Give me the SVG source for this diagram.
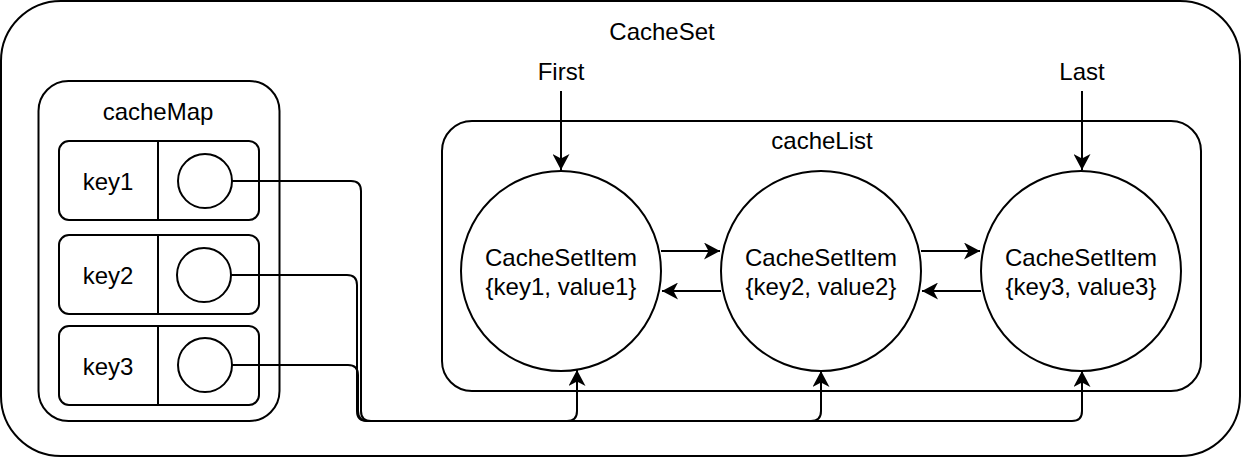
<svg xmlns="http://www.w3.org/2000/svg" width="1242" height="458" viewBox="0 0 1242 458">
<style>
.s{fill:#fff;stroke:#000;stroke-width:2}
.n{fill:none;stroke:#000;stroke-width:2}
.e{fill:none;stroke:#000;stroke-width:2}
text{font-family:"Liberation Sans",Arial,Helvetica,sans-serif;font-size:24px;fill:#000;text-anchor:middle}
</style>
<defs>
<marker id="ah" markerUnits="userSpaceOnUse" markerWidth="17" markerHeight="17" viewBox="0 0 17 17" refX="16" refY="8.5" orient="auto">
<path d="M0,0 L16,8.5 L0,17 L4.5,8.5 Z" fill="#000"/>
</marker>
</defs>
<rect width="1242" height="458" fill="#fff"/>
<g id="cacheSet">
<rect class="s" x="1" y="1" width="1239" height="455" rx="60"/>
<text x="662" y="40">CacheSet</text>
</g>
<g id="cacheMap">
<rect class="s" x="38.5" y="81" width="241" height="340" rx="30"/>
<text x="158" y="120">cacheMap</text>
</g>
<g id="row1">
<rect class="s" x="59" y="141" width="200" height="79" rx="10"/>
<line class="n" x1="158" y1="141" x2="158" y2="220"/>
<text x="108" y="190">key1</text>
<circle class="s" cx="205" cy="181" r="27"/>
</g>
<g id="row2">
<rect class="s" x="59" y="235" width="200" height="79" rx="10"/>
<line class="n" x1="158" y1="235" x2="158" y2="314"/>
<text x="108" y="284">key2</text>
<circle class="s" cx="204" cy="275" r="27"/>
</g>
<g id="row3">
<rect class="s" x="59" y="326" width="200" height="79" rx="10"/>
<line class="n" x1="158" y1="326" x2="158" y2="405"/>
<text x="108" y="375">key3</text>
<circle class="s" cx="205" cy="365" r="27"/>
</g>
<g id="cacheList">
<rect class="s" x="442" y="121" width="759" height="270" rx="30"/>
<text x="822" y="149">cacheList</text>
</g>
<g id="first"><text x="561" y="80">First</text></g>
<g id="last"><text x="1082" y="80">Last</text></g>
<g id="item1">
<circle class="s" cx="561" cy="271" r="100"/>
<text x="561" y="266">CacheSetItem</text>
<text x="561" y="295">{key1, value1}</text>
</g>
<g id="item2">
<circle class="s" cx="821" cy="271" r="100"/>
<text x="821" y="266">CacheSetItem</text>
<text x="821" y="295">{key2, value2}</text>
</g>
<g id="item3">
<circle class="s" cx="1081" cy="271" r="100"/>
<text x="1081" y="266">CacheSetItem</text>
<text x="1081" y="295">{key3, value3}</text>
</g>
<g id="connectors">
<path class="e" marker-end="url(#ah)" d="M561,91 V170"/>
<path class="e" marker-end="url(#ah)" d="M1082,91 V170"/>
<path class="e" marker-end="url(#ah)" d="M661,251 H720"/>
<path class="e" marker-end="url(#ah)" d="M721,291 H662"/>
<path class="e" marker-end="url(#ah)" d="M921,251 H980"/>
<path class="e" marker-end="url(#ah)" d="M981,291 H922"/>
<path class="e" marker-end="url(#ah)" d="M232,181 H351 Q361,181 361,191 V411 Q361,421 371,421 H567 Q577,421 577,411 V370"/>
<path class="e" marker-end="url(#ah)" d="M231,275 H347 Q357,275 357,285 V411 Q357,421 367,421 H811 Q821,421 821,411 V371"/>
<path class="e" marker-end="url(#ah)" d="M232,365 H348 Q358,365 358,375 V411 Q358,421 368,421 H1072 Q1082,421 1082,411 V371"/>
</g>
</svg>
